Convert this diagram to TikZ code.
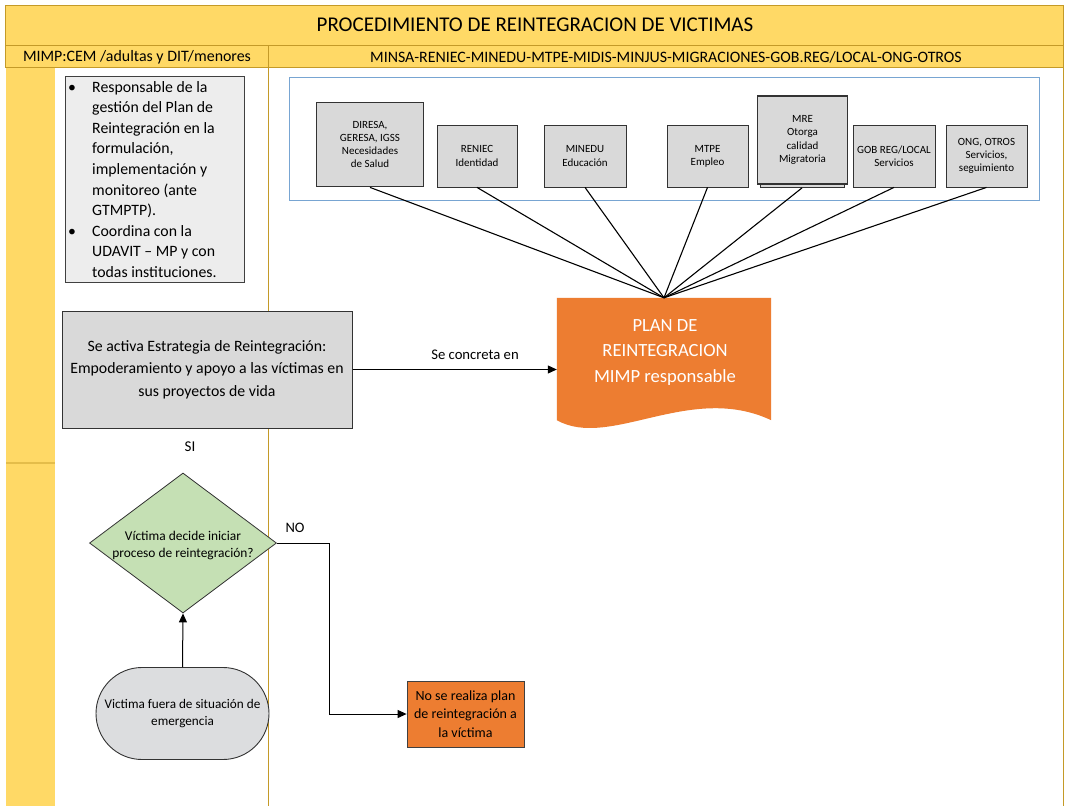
\documentclass[tikz,border=0pt]{standalone}
\usepackage{fontspec}
\setmainfont{Carlito}
\usetikzlibrary{shapes.geometric,arrows.meta}
\definecolor{hdr}{HTML}{FFD966}
\definecolor{gold}{RGB}{196,154,40}
\definecolor{boxgray}{HTML}{D9D9D9}
\definecolor{lightbox}{HTML}{EDEDED}
\definecolor{orng}{HTML}{ED7D31}
\definecolor{grn}{HTML}{C5E0B4}
\definecolor{blu}{RGB}{120,165,210}
\definecolor{stad}{RGB}{220,221,223}
\begin{document}
\begin{tikzpicture}[x=1pt,y=-1pt,
  lane/.style={gold, line width=1pt},
  ibox/.style={draw=black!80, fill=boxgray, line width=0.8pt, align=center,
    font=\fontsize{11}{13.2}\selectfont, inner sep=1pt, minimum height=62pt},
  tbox/.style={ibox, line width=1.8pt},
  conn/.style={black, line width=1.1pt},
  arr/.style={black, line width=1pt, -{Triangle[length=9pt,width=8pt]}},
  lbl/.style={font=\fontsize{14.7}{17}\selectfont}]
\useasboundingbox (0,0) rectangle (1066,806);
\fill[white] (0,0) rectangle (1066,806);
% lanes
\fill[hdr] (5,5) rectangle (1063,67);
\fill[hdr] (6,67) rectangle (55,806);
\draw[gold!45!hdr, line width=1.5pt] (6,463) -- (55,463);
\draw[lane] (5,5) rectangle (1063,45);
\draw[lane] (5,45) rectangle (1063,67);
\draw[lane] (268,45) -- (268,806);
\draw[lane] (1063,67) -- (1063,806);
\node[font=\fontsize{21}{24}\selectfont] (title) at (535,25) {PROCEDIMIENTO DE REINTEGRACION DE VICTIMAS};
\node[font=\fontsize{15.9}{18}\selectfont] (lane1) at (137,57) {MIMP:CEM /adultas y DIT/menores};
\node[font=\fontsize{15.9}{18}\selectfont] (lane2) at (666,57) {MINSA-RENIEC-MINEDU-MTPE-MIDIS-MINJUS-MIGRACIONES-GOB.REG/LOCAL-ONG-OTROS};
% responsibilities box
\node[draw=black!75, fill=lightbox, line width=0.8pt, minimum width=179pt, minimum height=206pt, anchor=north west, inner sep=0] (resp) at (65,76) {};
\node[anchor=north west, inner sep=0, font=\fontsize{15.8}{20.6}\selectfont] (resptxt) at (68,77.5) {%
\begin{tabular}{@{}p{24pt}@{}l@{}}
\textbullet & Responsable de la\\
 & gestión del  Plan de\\
 & Reintegración en la\\
 & formulación,\\
 & implementación y\\
 & monitoreo (ante\\
 & GTMPTP).\\
\textbullet & Coordina con la\\
 & UDAVIT – MP y con\\
 & todas instituciones.
\end{tabular}};
% institutions container
\node[draw=blu, line width=0.8pt, minimum width=750pt, minimum height=123pt, anchor=north west, inner sep=0] (cont) at (289,77) {};
\node[tbox, minimum width=107pt, minimum height=84pt] (diresa) at (370,144.5) {DIRESA,\\GERESA, IGSS\\Necesidades\\de Salud};
\node[ibox, minimum width=80pt] (reniec) at (477,156) {RENIEC\\Identidad};
\node[ibox, minimum width=82pt] (minedu) at (585,156) {MINEDU\\Educación};
\node[ibox, minimum width=81pt] (mtpe) at (707.5,156) {MTPE\\Empleo};
\node[ibox, minimum width=84pt, minimum height=88pt] (mresh) at (802,143.5) {};
\node[tbox, minimum width=90pt, minimum height=88pt] (mre) at (802.5,140) {MRE\\Otorga\\calidad\\Migratoria};
\node[ibox, minimum width=82pt] (gob) at (894,156) {GOB REG/LOCAL\\Servicios};
\node[ibox, minimum width=81pt] (ong) at (986.5,156) {ONG, OTROS\\Servicios,\\seguimiento};
% plan document
\node[minimum width=214pt, minimum height=122pt, inner sep=0] (plan) at (664,359) {};
\fill[orng] (plan.north west) -- (plan.north east) -- (plan.south east)
  .. controls (690,382) and (610,450) .. (plan.south west) -- cycle;
\node[text=white, align=center, font=\fontsize{18.6}{25.5}\selectfont] (plantxt) at (665,352.5) {PLAN DE\\REINTEGRACION\\MIMP responsable};
\foreach \n in {diresa,reniec,minedu,mtpe,mresh,gob,ong}
  \draw[conn] (\n.south) -- (plan.north);
% strategy box
\node[draw=black!80, fill=boxgray, line width=1pt, minimum width=290pt, minimum height=117pt, align=center, font=\fontsize{15.8}{22.5}\selectfont] (act) at (207,369.5) {Se activa Estrategia de Reintegración:\\Empoderamiento y apoyo a las víctimas en\\sus proyectos de vida};
\draw[arr] (act.east) -- (act.east -| plan.west);
\node[lbl] (conc) at (475,355) {Se concreta en};
\node[font=\fontsize{15}{17}\selectfont] (si) at (190,447) {SI};
% decision
\node[diamond, draw=black!80, fill=grn, line width=0.8pt, minimum width=187pt, minimum height=140pt, inner sep=0] (dec) at (183,543) {};
\node[align=center, font=\fontsize{13.4}{17}\selectfont] (dectxt) at (183,545) {Víctima decide iniciar\\proceso de reintegración?};
\node[draw=black!80, fill=stad, line width=0.9pt, rounded corners=46pt, minimum width=173pt, minimum height=92pt, align=center, font=\fontsize{13.2}{16.5}\selectfont] (vic) at (182.5,713.5) {Victima fuera de situación de\\emergencia};
\draw[arr] (vic.north) -- (dec.south);
\node[font=\fontsize{14.5}{17}\selectfont] (no) at (295,528) {NO};
\node[draw=black!75, fill=orng, line width=0.8pt, minimum width=117pt, minimum height=66pt, align=center, font=\fontsize{14}{18.5}\selectfont, inner sep=1pt] (nope) at (465.5,714) {No se realiza plan\\de reintegración a\\la víctima};
\draw[arr] (dec.east) -- ++(53,0) |- (nope.west);
\end{tikzpicture}
\end{document}
